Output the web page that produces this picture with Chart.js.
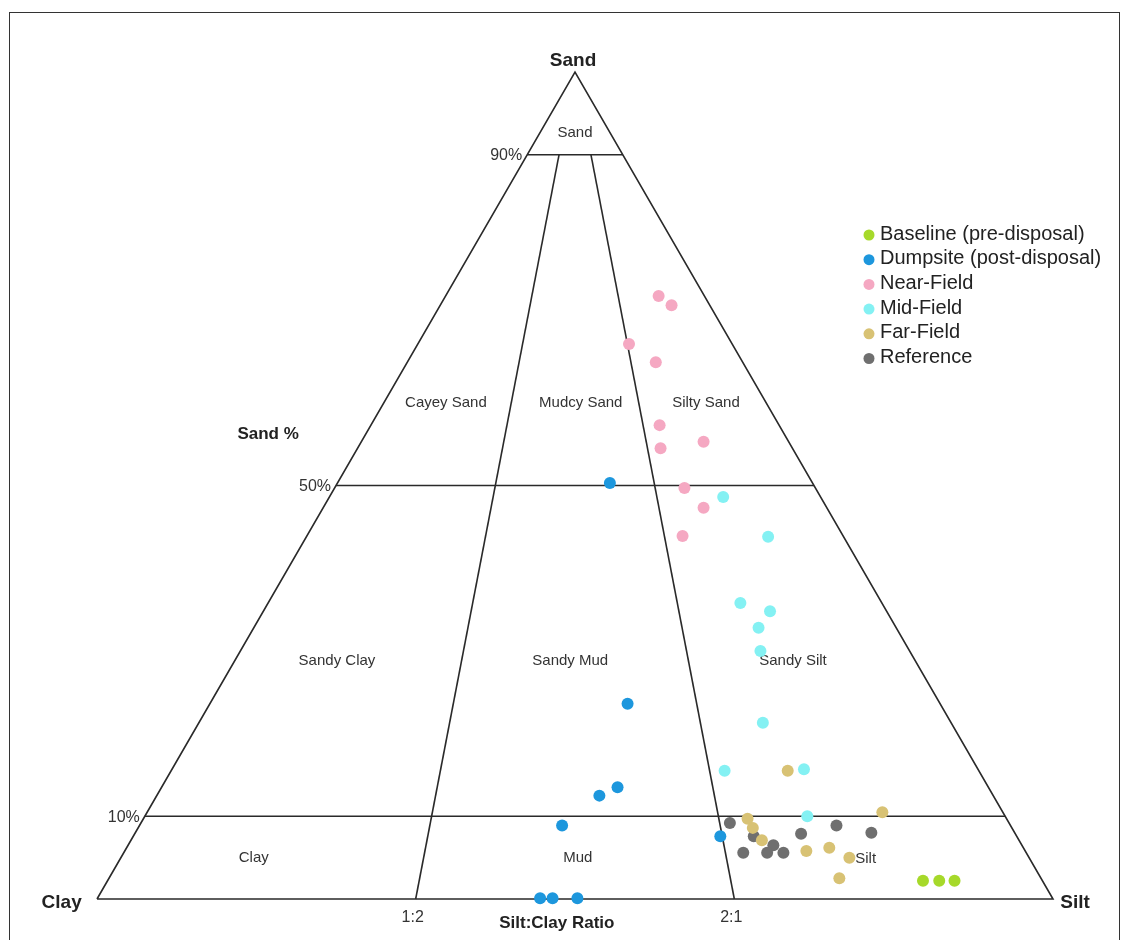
<!DOCTYPE html>
<html>
<head>
<meta charset="utf-8">
<script src="https://cdn.jsdelivr.net/npm/chart.js@4.4.0/dist/chart.umd.min.js"></script>
<style>
html, body { margin: 0; padding: 0; background: #fff; }
canvas { display: block; }
</style>
</head>
<body>
<canvas id="folkChart" width="1122" height="940"></canvas>
<script>
// Samples as [sand %, silt %, clay %]
const baseline = [[2.2, 85.3, 12.5], [2.2, 87.0, 10.8], [2.2, 88.6, 9.2]];
const dumpsite = [
    [50.3, 28.5, 21.2], [23.6, 43.7, 32.7], [13.5, 47.7, 38.8], [12.5, 46.3, 41.2],
    [8.9, 44.2, 46.9], [7.6, 61.4, 31.0], [0.1, 46.3, 53.6], [0.1, 47.6, 52.3], [0.1, 50.2, 49.7]
];
const nearField = [
    [72.9, 22.3, 4.8], [71.8, 24.2, 4.0], [67.1, 22.1, 10.8], [64.9, 26.0, 9.1], [57.3, 30.2, 12.5],
    [54.5, 31.7, 13.8], [55.3, 35.8, 8.9], [49.7, 36.6, 13.7], [47.3, 39.8, 12.9], [43.9, 39.3, 16.8]
];
const midField = [
    [48.6, 41.2, 10.2], [43.8, 48.3, 7.9], [35.8, 49.4, 14.8], [34.8, 53.0, 12.2], [32.8, 52.8, 14.4],
    [30.0, 54.4, 15.6], [21.3, 59.0, 19.7], [15.5, 57.9, 26.6], [15.7, 66.1, 18.2], [10.0, 69.3, 20.7]
];
const farField = [
    [15.5, 64.5, 20.0], [10.5, 76.9, 12.6], [9.7, 63.2, 27.1], [8.6, 64.3, 27.1], [7.1, 66.0, 26.9],
    [5.8, 71.3, 22.9], [6.2, 73.5, 20.3], [5.0, 76.2, 18.8], [2.5, 76.4, 21.1]
];
const reference = [
    [9.2, 61.6, 29.2], [7.6, 64.9, 27.5], [6.5, 67.5, 26.0], [5.6, 67.3, 27.1], [5.6, 69.0, 25.4],
    [5.6, 64.8, 29.6], [7.9, 69.7, 22.4], [8.9, 72.9, 18.2], [8.0, 77.0, 15.0]
];

const seriesNames = ['Baseline (pre-disposal)', 'Dumpsite (post-disposal)', 'Near-Field', 'Mid-Field', 'Far-Field', 'Reference'];
const seriesData = [baseline, dumpsite, nearField, midField, farField, reference];
const seriesColors = ['#a6d92a', '#1d97dd', '#f5a8c2', '#84f1f3', '#d8c274', '#6f6f6f'];

// Folk class boundaries
const sandLevels = [90, 50, 10];
const sandTicks = ['90%', '50%', '10%'];
const ratioLines = [1 / 3, 2 / 3];
const ratioTicks = ['1:2', '2:1'];

// ternary -> cartesian (clay corner at 0, silt corner at 100, sand apex on top)
function toXY(p) {
    return { x: p[1] + p[0] / 2, y: p[0] };
}

const FONT = '"Liberation Sans", Arial, sans-serif';

const boundaries = [];
boundaries.push([[0, 0, 100], [0, 100, 0], [100, 0, 0], [0, 0, 100]]);
sandLevels.forEach(s => boundaries.push([[s, 0, 100 - s], [s, 100 - s, 0]]));
ratioLines.forEach(r => boundaries.push([[0, r * 100, (1 - r) * 100], [90, r * 10, (1 - r) * 10]]));

const datasets = [];
seriesData.forEach((pts, i) => {
    datasets.push({
        type: 'scatter',
        label: seriesNames[i],
        data: pts.map(toXY),
        backgroundColor: seriesColors[i],
        borderWidth: 0,
        pointRadius: 6,
        pointHoverRadius: 6,
        clip: false,
        order: 1
    });
});
boundaries.forEach(b => {
    datasets.push({
        type: 'line',
        label: '',
        data: b.map(toXY),
        borderColor: '#2a2a2a',
        borderWidth: 1.6,
        pointRadius: 0,
        fill: false,
        tension: 0,
        clip: false,
        order: 10
    });
});

// text placed in diagram units
const regionLabels = [
    ['Sand', 50, 92.6], ['Cayey Sand', 36.5, 60], ['Mudcy Sand', 50.6, 60], ['Silty Sand', 63.7, 60],
    ['Sandy Clay', 25.1, 28.8], ['Sandy Mud', 49.5, 28.8], ['Sandy Silt', 72.8, 28.8],
    ['Clay', 16.4, 5.0], ['Mud', 50.3, 5.0], ['Silt', 80.4, 4.9]
];

const textPlugin = {
    id: 'folkText',
    beforeDatasetsDraw(chart) {
        const ctx = chart.ctx;
        const sx = chart.scales.x, sy = chart.scales.y;
        const X = v => sx.getPixelForValue(v), Y = v => sy.getPixelForValue(v);
        ctx.save();
        ctx.fillStyle = '#333';
        ctx.textAlign = 'center';
        ctx.textBaseline = 'middle';
        ctx.font = '15px ' + FONT;
        regionLabels.forEach(l => ctx.fillText(l[0], X(l[1]), Y(l[2])));

        // sand % ticks on the left edge
        ctx.font = '16px ' + FONT;
        ctx.textAlign = 'right';
        sandLevels.forEach((s, i) => ctx.fillText(sandTicks[i], X(s / 2) - 5, Y(s) + 1));
        // ratio ticks under the base
        ctx.textAlign = 'center';
        ratioLines.forEach((r, i) => ctx.fillText(ratioTicks[i], X(r * 100) - 3, Y(-2.3)));

        ctx.fillStyle = '#222';
        ctx.font = 'bold 17px ' + FONT;
        ctx.fillText('Sand %', X(17.9), Y(56.2));
        ctx.fillText('Silt:Clay Ratio', X(48.1), Y(-2.9));
        ctx.font = 'bold 19px ' + FONT;
        ctx.fillText('Sand', X(49.8), Y(101.3));
        ctx.fillText('Clay', X(-3.7), Y(-0.5));
        ctx.fillText('Silt', X(102.3), Y(-0.4));
        ctx.restore();
    },
    afterDraw(chart) {
        const ctx = chart.ctx;
        ctx.save();
        // legend
        ctx.font = '20px ' + FONT;
        ctx.textAlign = 'left';
        ctx.textBaseline = 'middle';
        seriesNames.forEach((name, i) => {
            const y = 234 + i * 24.7;
            ctx.fillStyle = seriesColors[i];
            ctx.beginPath();
            ctx.arc(869, y + 1, 5.5, 0, Math.PI * 2);
            ctx.fill();
            ctx.fillStyle = '#222';
            ctx.fillText(name, 880, y);
        });
        // frame
        ctx.strokeStyle = '#333';
        ctx.lineWidth = 1;
        ctx.strokeRect(9.5, 12.5, 1110, 940);
        ctx.restore();
    }
};

const ctxFolk = document.getElementById('folkChart').getContext('2d');
const folkChart = new Chart(ctxFolk, {
    type: 'scatter',
    data: { datasets: datasets },
    options: {
        responsive: false,
        animation: false,
        layout: { padding: { left: 97, right: 69, top: 72, bottom: 41 } },
        scales: {
            x: { type: 'linear', min: 0, max: 100, display: false },
            y: { type: 'linear', min: 0, max: 100, display: false }
        },
        plugins: {
            legend: { display: false },
            tooltip: { enabled: true }
        }
    },
    plugins: [textPlugin]
});
</script>
</body>
</html>
